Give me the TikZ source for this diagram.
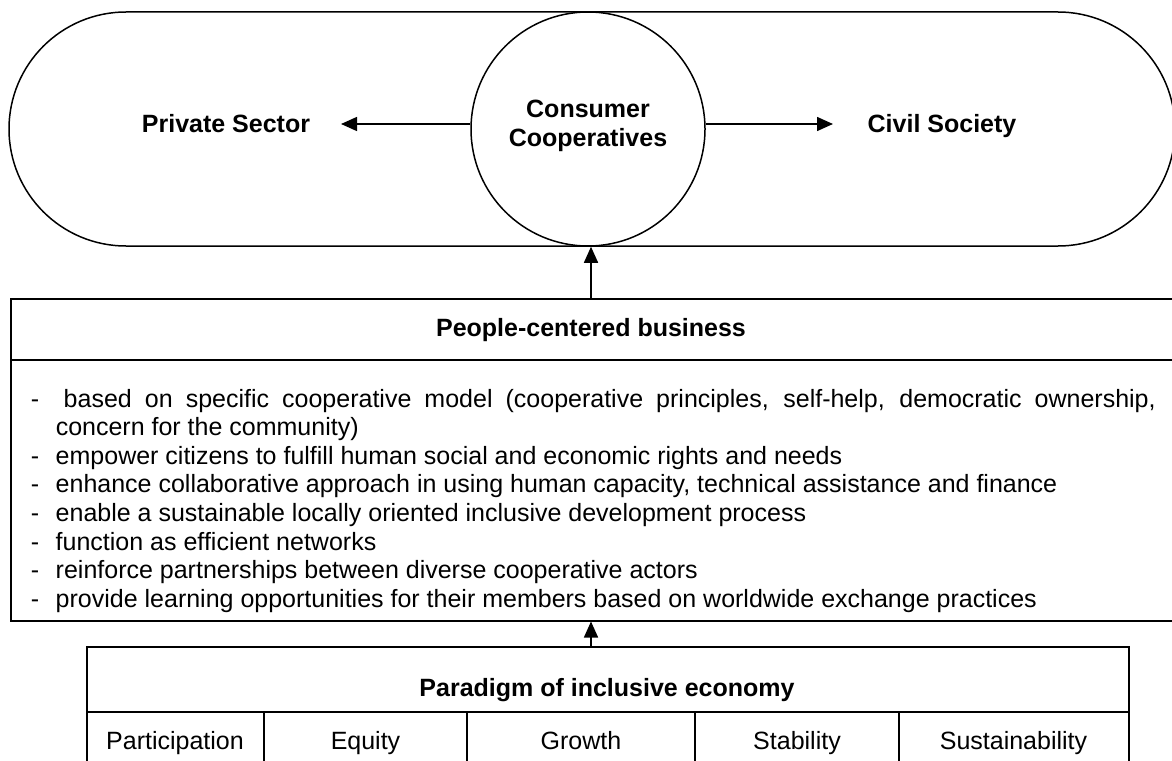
\documentclass[tikz,border=0pt]{standalone}
\usepackage{fontspec}
\setmainfont{Liberation Sans}
\usetikzlibrary{arrows.meta}
\begin{document}
\begin{tikzpicture}[x=1pt,y=-1pt, line width=1.5pt,
  arr/.style={-{Triangle[length=16pt,width=14pt]}},
  lbl/.style={font=\fontsize{25}{28.6}\selectfont\bfseries, anchor=base, inner sep=0pt},
  txt/.style={font=\fontsize{25}{28.6}\selectfont, anchor=base west, inner sep=0pt},
  cell/.style={font=\fontsize{25}{28.6}\selectfont, anchor=base, inner sep=0pt}]
\useasboundingbox (0,0) rectangle (1172,760);
% top stadium
\draw[rounded corners=117pt] (9,12) rectangle (1175,246);
\node[draw, fill=white, circle, minimum size=234pt, inner sep=0pt] (circ) at (588,129) {};
\node[lbl] (cons) at (588,117) {Consumer};
\node[lbl] (coop) at (588,146) {Cooperatives};
\node[lbl] (ps) at (226,132) {Private Sector};
\node[lbl] (cs) at (942,132) {Civil Society};
\coordinate (psTip) at (341,124);
\coordinate (csTip) at (833,124);
\draw[arr] (circ.west |- psTip) -- (psTip);
\draw[arr] (circ.east |- csTip) -- (csTip);
% people-centered business box
\node[draw, anchor=north west, minimum width=1162pt, minimum height=322pt, inner sep=0pt] (pcb) at (10,298) {};
\draw (pcb.west |- 0,360) -- (pcb.east |- 0,360);
\node[lbl] (pcbh) at (591,336) {People-centered business};
\draw[arr] (pcb.north -| pcbh) -- (circ.south -| pcbh);
\node[txt] (l1) at (30,407) {\makebox[33pt][l]{-}\makebox[1092pt][s]{based on specific cooperative model (cooperative principles, self-help, democratic ownership,}};
\node[txt] (l2) at (55,435.6) {concern for the community)};
\node[txt] (l3) at (30,464.2) {\makebox[25pt][l]{-}empower citizens to fulfill human social and economic rights and needs};
\node[txt] (l4) at (30,492.8) {\makebox[25pt][l]{-}enhance collaborative approach in using human capacity, technical assistance and finance};
\node[txt] (l5) at (30,521.4) {\makebox[25pt][l]{-}enable a sustainable locally oriented inclusive development process};
\node[txt] (l6) at (30,550) {\makebox[25pt][l]{-}function as efficient networks};
\node[txt] (l7) at (30,578.6) {\makebox[25pt][l]{-}reinforce partnerships between diverse cooperative actors};
\node[txt] (l8) at (30,607.2) {\makebox[25pt][l]{-}provide learning opportunities for their members based on worldwide exchange practices};
% paradigm box
\node[draw, anchor=north west, minimum width=1042pt, minimum height=124pt, inner sep=0pt] (pie) at (86,646) {};
\draw (pie.west |- 0,712) -- (pie.east |- 0,712);
\foreach \xx in {264,467,695,899} \draw (\xx,712) -- (\xx,770);
\node[lbl] (pieh) at (607,696) {Paradigm of inclusive economy};
\draw[arr] (pie.north -| pcbh) -- (pcb.south -| pcbh);
\node[cell] (c1) at (175,749) {Participation};
\node[cell] (c2) at (365.5,749) {Equity};
\node[cell] (c3) at (581,749) {Growth};
\node[cell] (c4) at (797,749) {Stability};
\node[cell] (c5) at (1013.5,749) {Sustainability};
\end{tikzpicture}
\end{document}
